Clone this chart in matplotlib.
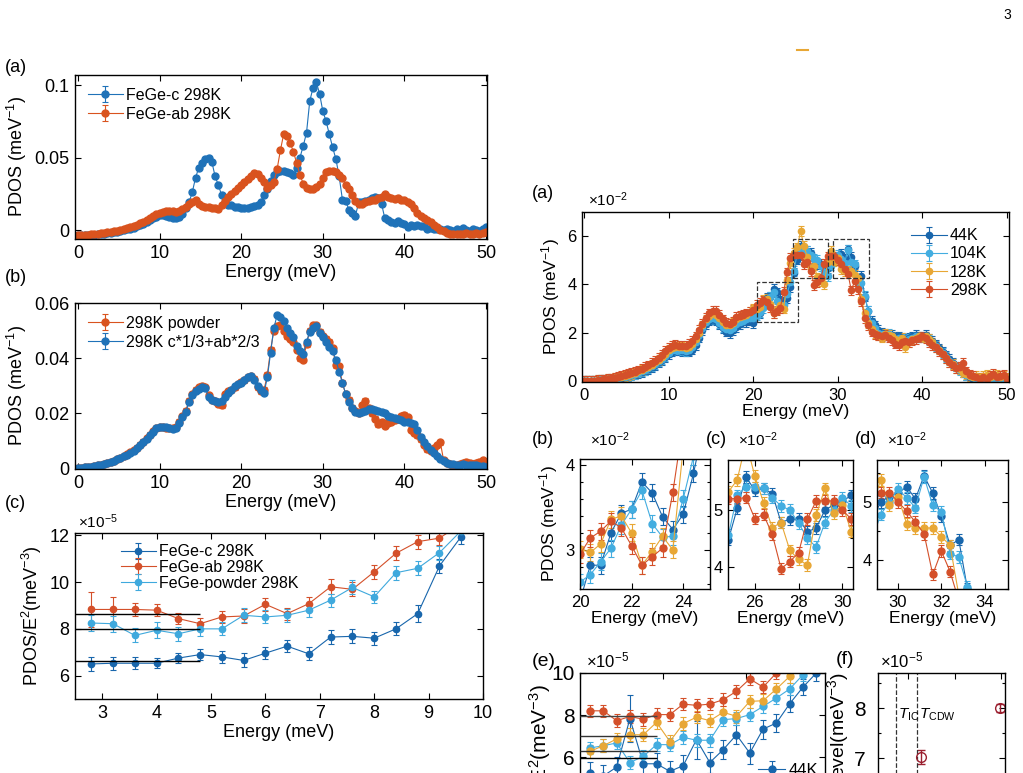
import numpy as np
import matplotlib
matplotlib.use("Agg")
import matplotlib.pyplot as plt
from matplotlib.patches import Rectangle
from matplotlib.lines import Line2D
from matplotlib.ticker import MultipleLocator

plt.rcParams['font.family'] = ['Liberation Sans', 'DejaVu Sans']
plt.rcParams['mathtext.fontset'] = 'custom'
plt.rcParams['mathtext.rm'] = 'Liberation Sans'
plt.rcParams['mathtext.it'] = 'Liberation Sans:italic'
plt.rcParams['axes.linewidth'] = 1.0

# ---------------- data ----------------
E_STEP = 0.4  # energy grid of the PDOS data (meV), 0 ... 50

# left (a): single-crystal PDOS, units 1e-2 meV^-1
pdos_c_298 = [
    -0.35, -0.35, -0.34, -0.33, -0.32, -0.31, -0.29, -0.27, -0.25, -0.22,
    -0.19, -0.15, -0.11, -0.07, -0.02, 0.04, 0.1, 0.17, 0.25, 0.34,
    0.44, 0.55, 0.67, 0.8, 0.93, 1.02, 1.02, 0.95, 0.88, 0.82,
    0.8, 0.88, 1.1, 1.5, 1.9, 2.6, 3.6, 4.3, 4.6, 4.9,
    5.0, 4.7, 3.7, 3.1, 2.4, 1.9, 1.75, 1.7, 1.62, 1.56,
    1.52, 1.5, 1.55, 1.6, 1.65, 1.75, 1.95, 2.4, 2.8, 3.4,
    3.8, 4.0, 4.1, 4.1, 4.0, 3.9, 3.8, 4.3, 5.0, 5.8,
    6.7, 8.9, 9.8, 10.2, 9.4, 8.2, 7.5, 6.6, 5.7, 4.9,
    3.7, 2.1, 2.0, 1.4, 1.15, 1.0, 1.9, 1.9, 2.0, 2.1,
    2.2, 2.25, 2.2, 1.8, 0.8, 0.7, 0.55, 0.5, 0.6, 0.45,
    0.4, 0.2, 0.35, 0.3, 0.35, 0.3, 0.25, 0.1, 0.15, 0.1,
    0.05, 0.1, 0.0, 0.05, 0.0, -0.1, 0.1, 0.0, 0.15, 0.0,
    -0.05, 0.05, 0.0, -0.1, 0.05, 0.2]
pdos_ab_298 = [
    -0.35, -0.34, -0.33, -0.32, -0.3, -0.28, -0.26, -0.23, -0.2, -0.17,
    -0.13, -0.09, -0.04, 0.01, 0.07, 0.13, 0.2, 0.28, 0.37, 0.47,
    0.58, 0.7, 0.82, 0.95, 1.07, 1.15, 1.22, 1.28, 1.3, 1.28,
    1.25, 1.32, 1.45, 1.6, 1.78, 1.95, 2.05, 1.8, 1.65, 1.62,
    1.6, 1.55, 1.5, 1.42, 1.7, 2.0, 2.3, 2.5, 2.7, 2.9,
    3.1, 3.3, 3.5, 3.75, 3.9, 3.85, 3.6, 3.3, 2.9, 3.1,
    3.3, 4.2, 5.5, 6.6, 6.5, 6.0, 5.4, 4.6, 3.8, 3.2,
    2.9, 2.8, 2.85, 3.0, 3.2, 3.6, 4.0, 4.1, 4.1, 4.0,
    3.8, 3.6, 3.1, 2.8, 2.4, 2.0, 1.8, 1.8, 1.9, 2.0,
    2.05, 2.1, 2.2, 2.3, 2.45, 2.3, 2.2, 2.15, 2.2, 2.1,
    2.05, 1.9, 1.8, 1.5, 1.2, 1.0, 0.85, 0.7, 0.55, 0.35,
    0.2, 0.0, -0.1, -0.2, -0.3, -0.3, -0.25, -0.3, -0.25, -0.2,
    -0.25, -0.3, -0.2, -0.25, -0.2, -0.15]

# left (b): powder vs weighted sum, units 1e-2 meV^-1
pdos_powder_298 = [
    0.02, 0.03, 0.04, 0.05, 0.07, 0.09, 0.11, 0.14, 0.17, 0.2,
    0.24, 0.28, 0.33, 0.39, 0.45, 0.51, 0.58, 0.66, 0.75, 0.86,
    0.97, 1.09, 1.22, 1.35, 1.45, 1.5, 1.5, 1.48, 1.45, 1.45,
    1.5, 1.7, 1.9, 2.1, 2.45, 2.7, 2.85, 2.95, 3.0, 2.95,
    2.65, 2.5, 2.45, 2.35, 2.3, 2.7, 2.8, 2.85, 2.95, 3.05,
    3.15, 3.2, 3.3, 3.35, 3.25, 2.95, 2.8, 2.85, 3.4, 4.3,
    5.0, 5.15, 5.2, 5.0, 4.8, 4.7, 4.6, 4.3, 4.0, 3.95,
    4.5, 5.0, 5.2, 5.2, 4.95, 4.8, 4.7, 4.6, 4.35, 3.75,
    3.7, 3.1, 2.7, 2.5, 2.2, 2.1, 2.0, 2.3, 2.45, 2.2,
    2.0, 1.8, 1.6, 1.7, 1.55, 1.65, 1.7, 1.75, 1.8, 1.9,
    1.95, 1.85, 1.4, 1.3, 1.2, 1.05, 0.85, 0.7, 0.65, 0.75,
    0.85, 0.95, 0.3, 0.2, 0.15, 0.1, 0.12, 0.15, 0.2, 0.25,
    0.2, 0.15, 0.2, 0.25, 0.3, 0.05]
pdos_mix_298 = [
    0.02, 0.03, 0.04, 0.05, 0.07, 0.09, 0.11, 0.14, 0.17, 0.2,
    0.24, 0.28, 0.33, 0.38, 0.44, 0.5, 0.57, 0.65, 0.74, 0.84,
    0.95, 1.07, 1.2, 1.33, 1.45, 1.5, 1.52, 1.5, 1.45, 1.42,
    1.45, 1.65, 1.85, 2.05, 2.4, 2.65, 2.8, 2.88, 2.95, 2.9,
    2.6, 2.5, 2.45, 2.4, 2.45, 2.6, 2.72, 2.85, 2.98, 3.05,
    3.1, 3.2, 3.3, 3.35, 3.2, 3.0, 2.85, 2.75, 3.3, 4.2,
    5.1, 5.55, 5.5, 5.35, 5.1, 4.9, 4.75, 4.45, 4.25, 4.15,
    4.6, 4.95, 5.1, 5.15, 4.9, 4.75, 4.6, 4.4, 4.25, 3.95,
    3.5, 3.1, 2.7, 2.4, 2.2, 2.05, 2.02, 2.05, 2.1, 2.14,
    2.15, 2.12, 2.1, 2.05, 2.0, 1.92, 1.88, 1.82, 1.78, 1.74,
    1.7, 1.67, 1.64, 1.6, 1.4, 1.15, 0.95, 0.8, 0.68, 0.55,
    0.45, 0.36, 0.26, 0.2, 0.17, 0.15, 0.14, 0.14, 0.15, 0.14,
    0.13, 0.14, 0.12, 0.1, 0.08, 0.06]

# left (c): PDOS/E^2, units 1e-5 meV^-3
e_low = [2.8, 3.2, 3.6, 4.0, 4.4, 4.8, 5.2, 5.6, 6.0, 6.4,
         6.8, 7.2, 7.6, 8.0, 8.4, 8.8, 9.2, 9.6]
red_c = [6.5, 6.53, 6.53, 6.53, 6.75, 6.9, 6.8, 6.65, 6.96, 7.26,
         6.93, 7.65, 7.68, 7.6, 8.0, 8.65, 10.69, 11.95]
red_c_err = [0.3, 0.27, 0.25, 0.22, 0.22, 0.25, 0.25, 0.3, 0.25, 0.25,
             0.28, 0.28, 0.3, 0.28, 0.28, 0.35, 0.3, 0.3]
red_ab = [8.83, 8.83, 8.83, 8.8, 8.44, 8.22, 8.51, 8.55, 9.05, 8.65,
          9.08, 9.8, 9.69, 10.44, 11.23, 11.73, 11.88, 12.5]
red_ab_err = [0.75, 0.55, 0.28, 0.25, 0.25, 0.25, 0.25, 0.3, 0.28, 0.25,
              0.28, 0.33, 0.3, 0.3, 0.3, 0.3, 0.3, 0.3]
red_pw = [8.25, 8.22, 7.72, 7.94, 7.79, 8.0, 8.0, 8.58, 8.51, 8.58,
          8.8, 9.23, 9.77, 9.37, 10.4, 10.59, 11.26, 12.2]
red_pw_err = [0.35, 0.35, 0.3, 0.35, 0.3, 0.3, 0.28, 0.3, 0.28, 0.28,
              0.3, 0.28, 0.3, 0.25, 0.3, 0.3, 0.3, 0.3]
plateau_left = [8.62, 8.0, 6.61]
plateau_end = 4.8

# right (a)-(d): powder PDOS vs temperature, units 1e-2 meV^-1
pdos_44K = [
    0.0, 0.0, 0.0, 0.0, 0.01, 0.02, 0.03, 0.05, 0.07, 0.09,
    0.11, 0.14, 0.17, 0.2, 0.24, 0.28, 0.33, 0.38, 0.44, 0.5,
    0.58, 0.67, 0.77, 0.88, 1.0, 1.12, 1.22, 1.27, 1.28, 1.25,
    1.22, 1.22, 1.3, 1.5, 1.8, 2.1, 2.35, 2.5, 2.55, 2.5,
    2.35, 2.2, 2.05, 2.0, 2.1, 2.25, 2.35, 2.45, 2.45, 2.5,
    2.4, 2.82, 2.82, 3.2, 3.43, 3.48, 3.8, 3.67, 3.39, 3.24,
    3.42, 3.9, 4.48, 5.03, 5.58, 5.35, 5.38, 5.29, 4.78, 4.84,
    4.84, 4.62, 4.68, 5.0, 5.09, 5.15, 5.26, 5.05, 5.45, 5.15,
    4.75, 4.25, 4.35, 3.5, 2.9, 2.5, 2.3, 2.1, 2.0, 1.95,
    1.9, 1.9, 1.85, 1.85, 1.8, 1.75, 1.8, 1.85, 1.9, 1.85,
    1.85, 1.9, 1.75, 1.65, 1.5, 1.35, 1.2, 1.05, 0.9, 0.75,
    0.6, 0.5, 0.35, 0.25, 0.15, 0.1, 0.05, 0.1, 0.05, 0.1,
    0.05, 0.1, 0.05, 0.1, 0.05, 0.1]
pdos_104K = [
    0.0, 0.0, 0.0, 0.01, 0.02, 0.03, 0.04, 0.06, 0.08, 0.1,
    0.12, 0.15, 0.18, 0.22, 0.26, 0.3, 0.35, 0.41, 0.47, 0.54,
    0.62, 0.71, 0.81, 0.92, 1.05, 1.18, 1.28, 1.3, 1.3, 1.27,
    1.25, 1.28, 1.4, 1.6, 1.9, 2.2, 2.45, 2.55, 2.6, 2.55,
    2.4, 2.25, 2.15, 2.1, 2.2, 2.35, 2.45, 2.5, 2.55, 2.6,
    2.62, 2.71, 2.86, 3.02, 3.29, 3.48, 3.7, 3.31, 3.15, 3.16,
    3.6, 4.1, 4.56, 5.26, 5.41, 5.4, 5.38, 5.22, 5.07, 5.0,
    4.77, 4.5, 4.35, 4.78, 5.0, 5.22, 5.07, 4.9, 5.43, 4.94,
    4.83, 4.11, 4.05, 3.54, 2.9, 2.4, 2.2, 2.0, 1.95, 1.9,
    1.95, 1.85, 1.75, 1.8, 1.75, 1.7, 1.75, 1.8, 1.85, 1.8,
    1.8, 1.85, 1.7, 1.6, 1.45, 1.3, 1.15, 1.0, 0.85, 0.7,
    0.6, 0.45, 0.35, 0.25, 0.2, 0.15, 0.1, 0.12, 0.1, 0.15,
    0.1, 0.12, 0.1, 0.15, 0.1, 0.1]
pdos_128K = [
    0.0, 0.0, 0.01, 0.02, 0.03, 0.04, 0.06, 0.08, 0.1, 0.12,
    0.15, 0.18, 0.21, 0.25, 0.3, 0.35, 0.4, 0.46, 0.52, 0.6,
    0.68, 0.77, 0.87, 0.99, 1.13, 1.28, 1.38, 1.42, 1.42, 1.4,
    1.38, 1.42, 1.55, 1.75, 2.0, 2.3, 2.55, 2.7, 2.8, 2.75,
    2.6, 2.45, 2.3, 2.3, 2.4, 2.55, 2.65, 2.7, 2.75, 2.85,
    3.01, 2.97, 3.07, 3.36, 3.4, 3.2, 2.82, 2.98, 3.16, 3.0,
    4.2, 4.9, 5.32, 5.53, 6.2, 5.6, 5.13, 4.69, 4.78, 4.29,
    4.13, 4.03, 4.91, 5.38, 4.95, 5.09, 4.62, 4.55, 4.55, 4.55,
    4.4, 4.25, 3.4, 2.8, 2.4, 2.15, 2.0, 1.9, 1.8, 1.95,
    1.9, 1.85, 1.75, 1.7, 1.8, 1.4, 1.6, 1.75, 1.8, 1.85,
    1.8, 1.85, 1.75, 1.6, 1.4, 1.3, 1.1, 0.95, 0.8, 0.7,
    0.55, 0.5, 0.35, 0.3, 0.2, 0.15, 0.2, 0.15, 0.2, 0.25,
    0.15, 0.2, 0.25, 0.15, 0.2, 0.15]
pdos_298K = [
    0.0, 0.0, 0.01, 0.02, 0.03, 0.05, 0.07, 0.09, 0.11, 0.14,
    0.17, 0.2, 0.24, 0.28, 0.33, 0.38, 0.44, 0.5, 0.57, 0.65,
    0.74, 0.84, 0.95, 1.08, 1.25, 1.38, 1.45, 1.48, 1.47, 1.45,
    1.46, 1.52, 1.65, 1.85, 2.1, 2.35, 2.6, 2.8, 2.92, 2.9,
    2.75, 2.55, 2.4, 2.35, 2.45, 2.65, 2.7, 2.75, 2.8, 2.85,
    2.95, 3.14, 3.22, 3.34, 3.26, 3.05, 2.82, 2.92, 3.02, 3.68,
    4.5, 5.1, 5.2, 5.2, 5.22, 4.85, 4.92, 4.57, 3.97, 4.09,
    4.25, 4.84, 5.16, 5.16, 5.16, 5.0, 4.84, 4.65, 4.45, 3.75,
    4.15, 3.8, 3.3, 2.6, 2.3, 2.05, 1.95, 1.9, 1.85, 1.9,
    1.8, 1.7, 1.55, 1.5, 1.62, 1.65, 1.6, 1.7, 1.75, 1.8,
    1.85, 1.78, 1.6, 1.5, 1.4, 1.25, 1.1, 0.95, 0.8, 0.65,
    0.55, 0.6, 0.75, 0.4, 0.25, 0.2, 0.15, 0.1, 0.15, 0.1,
    0.2, 0.3, 0.15, 0.2, 0.25, 0.1]
temps = ['44K', '104K', '128K', '298K']

# right (e): PDOS/E^2 vs temperature, units 1e-5 meV^-3
red_44K = [5.25, 5.1, 5.52, 7.83, 5.68, 5.68, 5.32, 5.59, 6.83, 5.74,
           6.35, 7.06, 6.19, 7.33, 7.62, 8.54, 9.33, 10.0]
red_44K_err = [0.5, 0.5, 0.5, 1.1, 0.5, 0.5, 0.5, 0.5, 0.9, 0.5,
               0.45, 0.45, 0.5, 0.45, 0.45, 0.4, 0.4, 0.4]
red_104K = [6.43, 6.54, 6.67, 5.74, 6.03, 6.59, 6.59, 6.94, 6.8, 6.8,
            7.78, 7.83, 8.02, 8.41, 8.81, 9.24, 9.92, 10.2]
red_128K = [6.27, 6.54, 6.86, 7.06, 7.06, 7.65, 6.74, 7.59, 7.9, 7.73,
            8.13, 7.94, 8.65, 8.68, 9.24, 9.84, 10.4, 10.8]
red_298K = [8.2, 8.2, 7.73, 7.93, 7.8, 8.02, 8.02, 8.52, 8.46, 8.52,
            8.73, 9.13, 9.72, 9.33, 10.0, 10.4, 10.8, 11.0]
plateau_T = [5.95, 6.3, 7.0, 7.97]

# right (f): plateau level vs temperature
level_T = [44, 104, 128, 298]
level_val = [5.95, 6.3, 7.02, 8.0]
level_err = [0.1, 0.1, 0.14, 0.08]
T_IC, T_CDW = 74, 119

# dashed zoom windows in right (a): (E0, E1, y0, y1)
zoom_boxes = [(20.5, 25.3, 2.45, 4.1), (24.7, 28.9, 4.25, 5.9), (29.4, 33.7, 4.25, 5.9)]

# ---------------- style ----------------
C_BLUE = '#1f72b8'
C_ORANGE = '#d9531e'
C_DBLUE = '#1866ac'
C_LBLUE = '#43ade0'
C_YELLOW = '#e8a735'
C_RED = '#d4502a'
C_LBLUE2 = '#3fa9dd'
C_WINE = '#9b1f2f'
temp_colors = [C_DBLUE, C_LBLUE, C_YELLOW, C_RED]

W, H = 1023, 773
fig = plt.figure(figsize=(W / 100, H / 100), dpi=100)


def px_axes(l, t, r, b):
    return fig.add_axes([l / W, 1 - b / H, (r - l) / W, (b - t) / H])


def ftext(x, y, s, **kw):
    fig.text(x / W, 1 - y / H, s, va='center', **kw)


def style(ax, size=13, pad=4):
    ax.tick_params(direction='in', top=True, right=True, length=4,
                   width=0.8, labelsize=size, pad=pad, which='major')
    ax.tick_params(direction='in', top=True, right=True, length=2.5,
                   width=0.8, which='minor')


def eb(ax, x, y, err, color, label=None, ms=5, lw=0.8, cap=2):
    return ax.errorbar(x, y, yerr=err, color=color, marker='o', ms=ms, lw=lw,
                       elinewidth=0.8, capsize=cap, capthick=0.8, label=label)


def energy(vals):
    return np.arange(len(vals)) * E_STEP


# ---------------- left (a) ----------------
ax = px_axes(75, 75, 487, 239)
eb(ax, energy(pdos_c_298), np.array(pdos_c_298) * 1e-2, 0.0012, C_BLUE, 'FeGe-c 298K', ms=5)
eb(ax, energy(pdos_ab_298), np.array(pdos_ab_298) * 1e-2, 0.0012, C_ORANGE, 'FeGe-ab 298K', ms=5)
ax.set_xlim(-0.37, 50.12)
ax.set_ylim(-0.0062, 0.1069)
ax.set_xticks([0, 10, 20, 30, 40, 50])
ax.set_yticks([0, 0.05, 0.1])
ax.set_yticklabels(['0', '0.05', '0.1'])
style(ax)
ax.set_xlabel('Energy (meV)', fontsize=13, labelpad=2)
ax.set_ylabel('PDOS (meV$^{-1}$)', fontsize=13)
ax.legend(loc='upper left', frameon=False, fontsize=11.5, handlelength=2.2,
          labelspacing=0.25, borderaxespad=0.4, handletextpad=0.2)
ftext(5, 68, '(a)', fontsize=13)

# ---------------- left (b) ----------------
ax = px_axes(75, 303, 487, 469)
eb(ax, energy(pdos_powder_298), np.array(pdos_powder_298) * 1e-2, 0.0009, C_ORANGE, '298K powder', ms=5)
eb(ax, energy(pdos_mix_298), np.array(pdos_mix_298) * 1e-2, 0.0007, C_BLUE, '298K c*1/3+ab*2/3', ms=5)
ax.set_xlim(-0.37, 50.12)
ax.set_ylim(-0.0002, 0.06)
ax.set_xticks([0, 10, 20, 30, 40, 50])
ax.set_yticks([0, 0.02, 0.04, 0.06])
ax.set_yticklabels(['0', '0.02', '0.04', '0.06'])
style(ax)
ax.set_xlabel('Energy (meV)', fontsize=13, labelpad=2)
ax.set_ylabel('PDOS (meV$^{-1}$)', fontsize=13)
ax.legend(loc='upper left', frameon=False, fontsize=11.5, handlelength=2.2,
          labelspacing=0.25, borderaxespad=0.4, handletextpad=0.2)
ftext(5, 278, '(b)', fontsize=13)

# ---------------- left (c) ----------------
ax = px_axes(75, 533, 483, 699)
eb(ax, e_low, red_c, red_c_err, C_DBLUE, 'FeGe-c 298K', ms=4.5)
eb(ax, e_low, red_ab, red_ab_err, C_RED, 'FeGe-ab 298K', ms=4.5)
eb(ax, e_low, red_pw, red_pw_err, C_LBLUE2, 'FeGe-powder 298K', ms=4.5)
ax.hlines(plateau_left, 2.5, plateau_end, colors='k', lw=1.0, zorder=5)
ax.set_xlim(2.5, 10)
ax.set_ylim(5, 12.1)
ax.set_xticks(range(3, 11))
ax.set_yticks([6, 8, 10, 12])
style(ax)
ax.set_xlabel('Energy (meV)', fontsize=13, labelpad=2)
ax.set_ylabel('PDOS/E$^2$(meV$^{-3}$)', fontsize=13)
ax.legend(loc='upper left', bbox_to_anchor=(0.085, 1.0), frameon=False, fontsize=11.5,
          handlelength=2.2, labelspacing=0.05, borderaxespad=0.3, handletextpad=0.2)
ftext(78, 522, '×10$^{-5}$', fontsize=11)
ftext(5, 503, '(c)', fontsize=13)

# ---------------- right (a) ----------------
ax = px_axes(582, 212, 1009, 382)
for vals, col, lab in zip([pdos_44K, pdos_104K, pdos_128K, pdos_298K], temp_colors, temps):
    eb(ax, energy(vals), vals, 0.2, col, lab, ms=4.5)
for e0, e1, y0, y1 in zoom_boxes:
    ax.add_patch(Rectangle((e0, y0), e1 - e0, y1 - y0, fill=False, ls='--',
                           ec='#333333', lw=0.9, zorder=6))
ax.set_xlim(-0.25, 50.25)
ax.set_ylim(-0.04, 7.0)
ax.set_xticks([0, 10, 20, 30, 40, 50])
ax.set_yticks([0, 2, 4, 6])
style(ax, 12)
ax.set_xlabel('Energy (meV)', fontsize=12.5, labelpad=1)
ax.set_ylabel('PDOS (meV$^{-1}$)', fontsize=12.5)
ax.legend(loc='upper right', bbox_to_anchor=(0.975, 0.97), frameon=False, fontsize=11.5,
          handlelength=2.2, labelspacing=0.2, borderaxespad=0.3, handletextpad=0.2)
ftext(588, 200, '×10$^{-2}$', fontsize=11)
ftext(532, 193, '(a)', fontsize=13)

# ---------------- right (b), (c), (d) zooms ----------------
insets = [
    ((580, 459, 710, 589), (20, 25.04), (2.54, 4.07), [20, 22, 24], [3, 4], 0.2, '(b)', 532),
    ((728, 460, 853, 589), (24.78, 30.48), (3.61, 5.88), [26, 28, 30], [4, 5], 0.5, '(c)', 706),
    ((877, 460, 1008, 589), (29.03, 35.07), (3.5, 5.72), [30, 32, 34], [4, 5], 0.5, '(d)', 855),
]
for k, (box, xl, yl, xt, yt, minor, letter, lx) in enumerate(insets):
    ax = px_axes(*box)
    for vals, col in zip([pdos_44K, pdos_104K, pdos_128K, pdos_298K], temp_colors):
        eb(ax, energy(vals), vals, 0.1, col, ms=5)
    ax.set_xlim(*xl)
    ax.set_ylim(*yl)
    ax.set_xticks(xt)
    ax.set_yticks(yt)
    ax.yaxis.set_minor_locator(MultipleLocator(minor))
    style(ax, 12)
    ax.set_xlabel('Energy (meV)', fontsize=12.5, labelpad=1)
    if k == 0:
        ax.set_ylabel('PDOS (meV$^{-1}$)', fontsize=12.5)
    ftext(box[0] + 10, 440, '×10$^{-2}$', fontsize=11)
    ftext(lx, 440, letter, fontsize=13)

# ---------------- right (e) ----------------
ax = px_axes(580, 673, 825, 839)
for vals, col, lab in zip([red_44K, red_104K, red_128K, red_298K], temp_colors, temps):
    err = red_44K_err if lab == '44K' else 0.3
    eb(ax, e_low, vals, err, col, lab, ms=5)
ax.hlines(plateau_T, 2.5, plateau_end, colors=['k', '#333333', '#333333', '#444444'],
          lw=1.0, zorder=5)
ax.set_xlim(2.5, 9.86)
ax.set_ylim(2.1, 10)
ax.set_yticks([4, 6, 8, 10])
style(ax, 15)
ax.set_ylabel('PDOS/E$^2$(meV$^{-3}$)', fontsize=15)
ax.yaxis.set_label_coords(-0.112, 0.44)
ax.legend(loc='upper left', bbox_to_anchor=(0.7, 0.5), frameon=False, fontsize=12,
          handlelength=1.6, labelspacing=0.2, borderaxespad=0.0, handletextpad=0.2)
ftext(586, 660, '×10$^{-5}$', fontsize=12)
ftext(532, 662, '(e)', fontsize=14)

# ---------------- right (f) ----------------
ax = px_axes(878, 673, 1005, 839)
ax.errorbar(level_T, level_val, yerr=level_err, color=C_WINE, marker='o', ms=7,
            mfc='none', mew=1.0, ls='none', elinewidth=1.0, capsize=3, capthick=1.0)
for t in (T_IC, T_CDW):
    ax.axvline(t, color='#333333', ls='--', lw=0.9)
ax.text(T_IC + 3, 7.87, r'$T_{\rm IC}$', fontsize=11, va='center')
ax.text(T_CDW + 3, 7.87, r'$T_{\rm CDW}$', fontsize=11, va='center')
ax.set_xlim(34, 309)
ax.set_ylim(5.38, 8.7)
ax.set_xticks([100, 200, 300])
ax.set_yticks([6, 7, 8])
ax.yaxis.set_minor_locator(MultipleLocator(0.5))
style(ax, 15, pad=9)
ax.set_ylabel('Debye level(meV$^{-3}$)', fontsize=14)
ax.yaxis.set_label_coords(-0.21, 0.485)
ftext(880, 660, '×10$^{-5}$', fontsize=12)
ftext(836, 660, '(f)', fontsize=14)

# page number and stray mark at the top
ftext(1003, 15, '3', fontsize=10)
fig.add_artist(Line2D([797 / W, 808 / W], [1 - 50 / H, 1 - 50 / H], color=C_YELLOW, lw=1.5))

fig.savefig('out.png', dpi=100)
